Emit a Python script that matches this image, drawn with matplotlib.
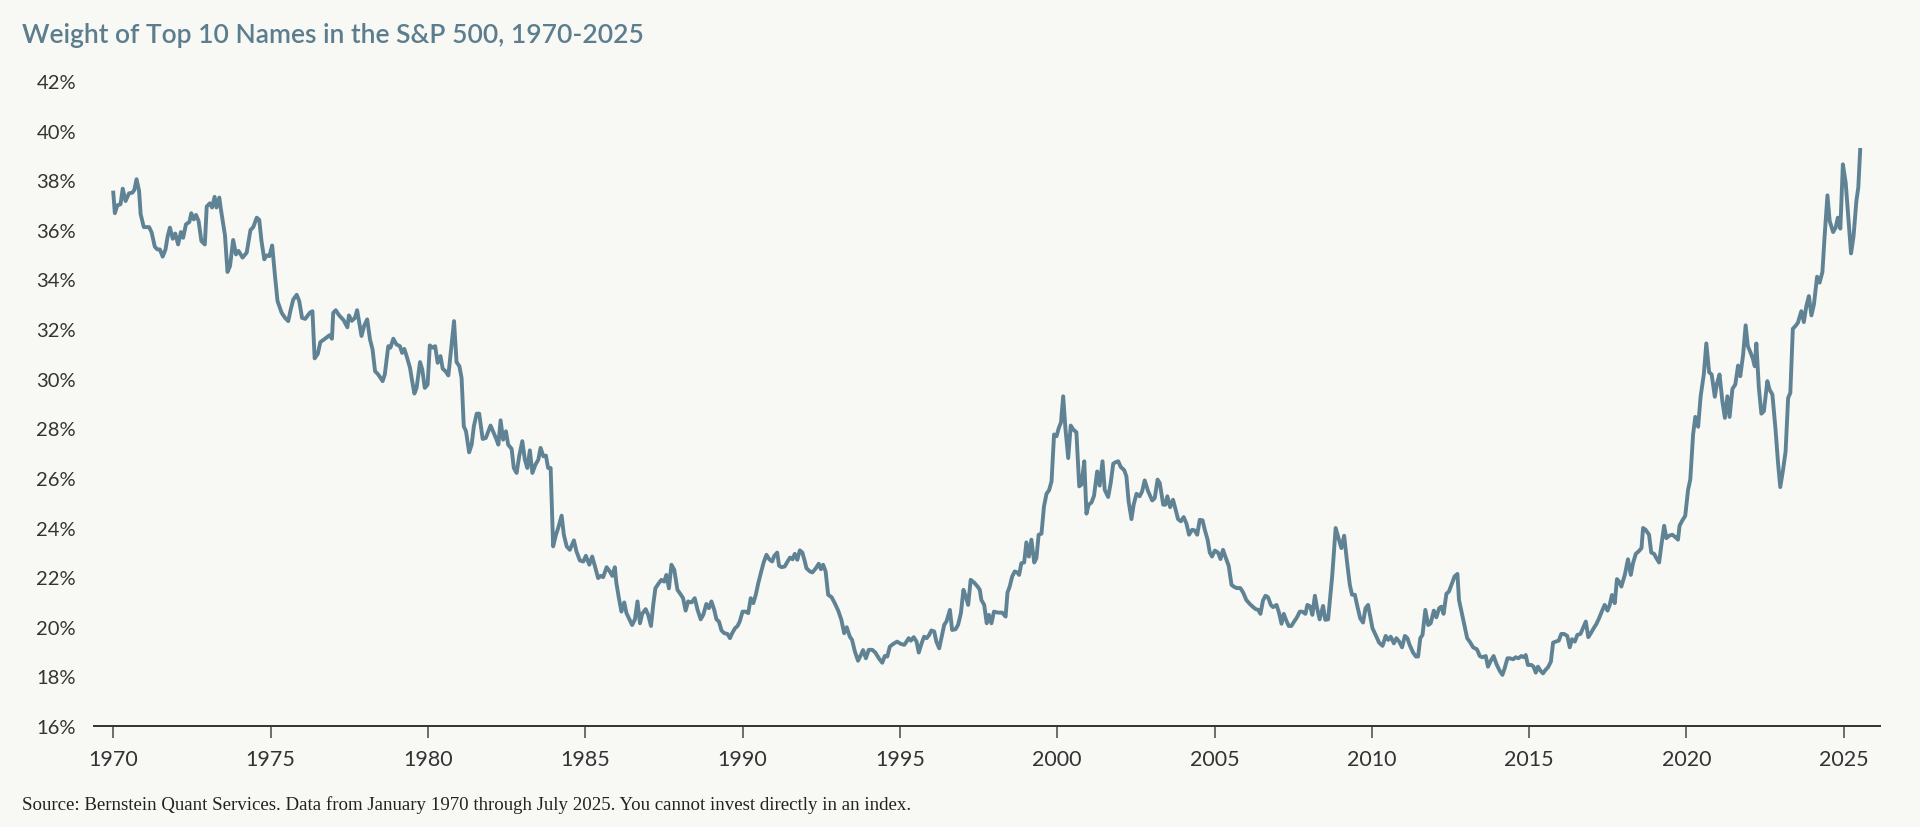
import matplotlib
matplotlib.use("Agg")
import matplotlib.pyplot as plt
from matplotlib.ticker import FuncFormatter

plt.rcParams.update({"font.family": "Lato"})

BG = "#f8f8f4"
LINE = "#5f8395"
TITLE = "#5b7d8e"
TXT = "#333333"

# decimal year / weight (%)
years = [
    1970.00, 1970.05, 1970.13, 1970.23, 1970.30, 1970.39, 1970.50, 1970.61, 1970.67, 1970.74,
    1970.82, 1970.87, 1970.97, 1971.14, 1971.22, 1971.32, 1971.40, 1971.48, 1971.57, 1971.66,
    1971.73, 1971.80, 1971.89, 1971.97, 1972.06, 1972.15, 1972.22, 1972.31, 1972.42, 1972.48,
    1972.56, 1972.63, 1972.71, 1972.80, 1972.91, 1972.97, 1973.07, 1973.14, 1973.22, 1973.28,
    1973.37, 1973.42, 1973.55, 1973.63, 1973.71, 1973.81, 1973.90, 1973.98, 1974.11, 1974.24,
    1974.36, 1974.45, 1974.56, 1974.64, 1974.71, 1974.80, 1974.87, 1974.96, 1975.05, 1975.14,
    1975.22, 1975.35, 1975.46, 1975.56, 1975.64, 1975.72, 1975.83, 1975.91, 1976.00, 1976.10,
    1976.25, 1976.33, 1976.40, 1976.50, 1976.58, 1976.76, 1976.87, 1976.95, 1976.99, 1977.07,
    1977.18, 1977.32, 1977.44, 1977.49, 1977.58, 1977.68, 1977.75, 1977.89, 1977.97, 1978.07,
    1978.16, 1978.24, 1978.32, 1978.42, 1978.56, 1978.63, 1978.74, 1978.81, 1978.90, 1979.00,
    1979.11, 1979.18, 1979.25, 1979.34, 1979.43, 1979.50, 1979.57, 1979.64, 1979.75, 1979.82,
    1979.90, 1979.99, 1980.06, 1980.15, 1980.23, 1980.31, 1980.40, 1980.47, 1980.56, 1980.65,
    1980.72, 1980.83, 1980.91, 1981.00, 1981.07, 1981.14, 1981.21, 1981.31, 1981.39, 1981.46,
    1981.55, 1981.63, 1981.74, 1981.84, 1981.92, 1981.99, 1982.08, 1982.16, 1982.24, 1982.31,
    1982.39, 1982.48, 1982.55, 1982.66, 1982.73, 1982.82, 1982.90, 1983.00, 1983.08, 1983.16,
    1983.24, 1983.32, 1983.42, 1983.51, 1983.58, 1983.67, 1983.75, 1983.82, 1983.90, 1983.98,
    1984.07, 1984.14, 1984.25, 1984.32, 1984.41, 1984.51, 1984.64, 1984.72, 1984.83, 1984.94,
    1985.02, 1985.13, 1985.22, 1985.31, 1985.41, 1985.49, 1985.57, 1985.68, 1985.78, 1985.86,
    1985.94, 1985.99, 1986.07, 1986.15, 1986.24, 1986.31, 1986.39, 1986.49, 1986.58, 1986.66,
    1986.74, 1986.81, 1986.92, 1987.00, 1987.09, 1987.16, 1987.23, 1987.34, 1987.42, 1987.51,
    1987.58, 1987.66, 1987.74, 1987.83, 1987.93, 1988.04, 1988.11, 1988.19, 1988.27, 1988.38,
    1988.48, 1988.57, 1988.67, 1988.75, 1988.85, 1988.93, 1989.01, 1989.10, 1989.17, 1989.25,
    1989.33, 1989.42, 1989.52, 1989.60, 1989.67, 1989.76, 1989.84, 1989.91, 1990.00, 1990.09,
    1990.18, 1990.26, 1990.34, 1990.42, 1990.50, 1990.58, 1990.67, 1990.76, 1990.85, 1990.94,
    1991.01, 1991.10, 1991.16, 1991.24, 1991.34, 1991.43, 1991.51, 1991.59, 1991.66, 1991.74,
    1991.82, 1991.90, 1991.98, 1992.03, 1992.14, 1992.22, 1992.33, 1992.42, 1992.49, 1992.56,
    1992.64, 1992.72, 1992.83, 1992.93, 1993.04, 1993.14, 1993.23, 1993.31, 1993.41, 1993.48,
    1993.57, 1993.67, 1993.76, 1993.83, 1993.92, 1994.01, 1994.12, 1994.22, 1994.33, 1994.44,
    1994.52, 1994.60, 1994.68, 1994.79, 1994.91, 1995.03, 1995.14, 1995.21, 1995.28, 1995.35,
    1995.44, 1995.53, 1995.60, 1995.69, 1995.77, 1995.85, 1995.93, 1996.00, 1996.09, 1996.16,
    1996.25, 1996.32, 1996.41, 1996.48, 1996.59, 1996.66, 1996.77, 1996.85, 1996.94, 1997.02,
    1997.11, 1997.17, 1997.25, 1997.36, 1997.47, 1997.54, 1997.59, 1997.68, 1997.76, 1997.83,
    1997.91, 1997.99, 1998.12, 1998.25, 1998.36, 1998.42, 1998.49, 1998.57, 1998.65, 1998.73,
    1998.79, 1998.86, 1998.95, 1999.02, 1999.10, 1999.18, 1999.27, 1999.34, 1999.41, 1999.50,
    1999.58, 1999.66, 1999.74, 1999.82, 1999.90, 1999.98, 2000.05, 2000.12, 2000.19, 2000.26,
    2000.35, 2000.43, 2000.51, 2000.61, 2000.70, 2000.77, 2000.86, 2000.93, 2001.00, 2001.09,
    2001.17, 2001.27, 2001.35, 2001.44, 2001.51, 2001.62, 2001.70, 2001.78, 2001.85, 2001.94,
    2002.02, 2002.13, 2002.20, 2002.27, 2002.36, 2002.43, 2002.52, 2002.62, 2002.70, 2002.78,
    2002.89, 2003.02, 2003.10, 2003.19, 2003.26, 2003.37, 2003.44, 2003.50, 2003.59, 2003.68,
    2003.76, 2003.84, 2003.93, 2004.02, 2004.11, 2004.19, 2004.29, 2004.37, 2004.45, 2004.53,
    2004.62, 2004.69, 2004.78, 2004.85, 2004.92, 2005.01, 2005.11, 2005.19, 2005.27, 2005.36,
    2005.45, 2005.54, 2005.61, 2005.70, 2005.82, 2005.91, 2006.01, 2006.12, 2006.23, 2006.31,
    2006.39, 2006.46, 2006.54, 2006.62, 2006.70, 2006.79, 2006.86, 2006.97, 2007.04, 2007.13,
    2007.20, 2007.28, 2007.36, 2007.44, 2007.53, 2007.62, 2007.71, 2007.79, 2007.89, 2007.95,
    2008.04, 2008.11, 2008.19, 2008.26, 2008.34, 2008.45, 2008.52, 2008.61, 2008.74, 2008.85,
    2008.95, 2009.03, 2009.12, 2009.21, 2009.30, 2009.37, 2009.46, 2009.54, 2009.63, 2009.72,
    2009.80, 2009.88, 2009.95, 2010.02, 2010.12, 2010.23, 2010.34, 2010.44, 2010.52, 2010.60,
    2010.70, 2010.78, 2010.87, 2010.96, 2011.05, 2011.13, 2011.20, 2011.31, 2011.40, 2011.47,
    2011.54, 2011.61, 2011.70, 2011.79, 2011.87, 2011.97, 2012.05, 2012.14, 2012.21, 2012.28,
    2012.37, 2012.45, 2012.55, 2012.63, 2012.72, 2012.77, 2012.85, 2012.93, 2013.03, 2013.11,
    2013.22, 2013.34, 2013.43, 2013.51, 2013.62, 2013.69, 2013.78, 2013.87, 2013.96, 2014.06,
    2014.15, 2014.22, 2014.31, 2014.38, 2014.49, 2014.57, 2014.66, 2014.75, 2014.83, 2014.89,
    2014.96, 2015.07, 2015.14, 2015.21, 2015.28, 2015.36, 2015.44, 2015.52, 2015.60, 2015.69,
    2015.76, 2015.84, 2015.94, 2016.02, 2016.11, 2016.21, 2016.29, 2016.36, 2016.45, 2016.53,
    2016.63, 2016.71, 2016.80, 2016.88, 2016.96, 2017.05, 2017.14, 2017.22, 2017.32, 2017.40,
    2017.49, 2017.56, 2017.63, 2017.72, 2017.79, 2017.86, 2017.93, 2018.04, 2018.14, 2018.23,
    2018.30, 2018.39, 2018.48, 2018.57, 2018.62, 2018.70, 2018.81, 2018.88, 2018.97, 2019.04,
    2019.13, 2019.21, 2019.29, 2019.36, 2019.45, 2019.55, 2019.65, 2019.73, 2019.78, 2019.87,
    2019.96, 2020.05, 2020.12, 2020.21, 2020.28, 2020.37, 2020.45, 2020.55, 2020.63, 2020.72,
    2020.80, 2020.90, 2020.97, 2021.05, 2021.14, 2021.22, 2021.30, 2021.37, 2021.46, 2021.55,
    2021.64, 2021.71, 2021.80, 2021.88, 2021.95, 2022.04, 2022.11, 2022.17, 2022.22, 2022.30,
    2022.38, 2022.46, 2022.57, 2022.64, 2022.73, 2022.83, 2022.91, 2022.98, 2023.07, 2023.15,
    2023.23, 2023.30, 2023.38, 2023.46, 2023.54, 2023.65, 2023.73, 2023.81, 2023.89, 2023.97,
    2024.05, 2024.15, 2024.23, 2024.32, 2024.39, 2024.48, 2024.55, 2024.66, 2024.74, 2024.81,
    2024.89, 2024.97, 2025.06, 2025.14, 2025.23, 2025.31, 2025.40, 2025.46, 2025.52,
]
weights = [
    37.50, 36.67, 36.99, 37.03, 37.66, 37.16, 37.47, 37.50, 37.61, 38.04,
    37.57, 36.63, 36.11, 36.11, 35.89, 35.32, 35.21, 35.21, 34.92, 35.21,
    35.75, 36.09, 35.64, 35.85, 35.41, 35.91, 35.68, 36.22, 36.32, 36.67,
    36.42, 36.60, 36.36, 35.55, 35.41, 36.94, 37.07, 36.90, 37.33, 36.90,
    37.30, 36.83, 35.78, 34.30, 34.54, 35.59, 35.01, 35.15, 34.88, 35.08,
    35.99, 36.11, 36.49, 36.40, 35.55, 34.81, 34.97, 34.94, 35.37, 34.14,
    33.13, 32.66, 32.45, 32.32, 32.79, 33.19, 33.38, 33.13, 32.45, 32.41,
    32.66, 32.72, 30.82, 31.00, 31.47, 31.64, 31.75, 31.61, 32.65, 32.76,
    32.55, 32.36, 32.07, 32.55, 32.33, 32.45, 32.76, 31.72, 32.12, 32.39,
    31.58, 31.18, 30.30, 30.17, 29.90, 30.17, 31.31, 31.25, 31.61, 31.38,
    31.31, 31.04, 31.20, 30.84, 30.44, 29.90, 29.40, 29.63, 30.67, 30.37,
    29.63, 29.76, 31.34, 31.25, 31.31, 30.64, 30.91, 30.40, 30.30, 30.13,
    30.98, 32.32, 30.67, 30.50, 30.03, 28.08, 27.88, 27.03, 27.34, 28.08,
    28.59, 28.59, 27.57, 27.61, 27.88, 28.11, 27.84, 27.61, 27.34, 28.32,
    27.54, 27.88, 27.34, 27.17, 26.40, 26.20, 26.87, 27.48, 26.74, 26.40,
    27.11, 26.20, 26.54, 26.74, 27.21, 26.87, 26.90, 26.40, 26.40, 23.24,
    23.71, 23.98, 24.48, 23.71, 23.24, 23.10, 23.48, 23.04, 22.67, 22.63,
    22.86, 22.50, 22.83, 22.43, 21.96, 22.05, 22.00, 22.40, 22.23, 22.05,
    22.40, 21.76, 21.15, 20.61, 20.98, 20.55, 20.34, 20.07, 20.30, 21.02,
    20.14, 20.52, 20.71, 20.48, 20.03, 20.88, 21.55, 21.76, 21.89, 21.82,
    22.09, 21.55, 22.50, 22.29, 21.49, 21.29, 21.15, 20.65, 21.02, 20.98,
    21.15, 20.68, 20.30, 20.48, 20.92, 20.75, 21.02, 20.68, 20.30, 20.21,
    19.85, 19.74, 19.71, 19.54, 19.74, 19.94, 20.03, 20.21, 20.61, 20.61,
    20.55, 21.15, 20.95, 21.29, 21.76, 22.16, 22.59, 22.90, 22.72, 22.63,
    22.86, 22.99, 22.46, 22.40, 22.43, 22.63, 22.79, 22.72, 22.94, 22.70,
    23.08, 22.99, 22.63, 22.36, 22.23, 22.19, 22.36, 22.54, 22.32, 22.50,
    22.23, 21.29, 21.19, 20.95, 20.65, 20.28, 19.74, 19.98, 19.60, 19.47,
    19.00, 18.63, 18.86, 19.06, 18.73, 19.07, 19.07, 18.96, 18.73, 18.55,
    18.82, 18.80, 19.20, 19.31, 19.40, 19.31, 19.27, 19.40, 19.54, 19.44,
    19.58, 19.40, 18.96, 19.33, 19.60, 19.54, 19.67, 19.85, 19.81, 19.40,
    19.13, 19.54, 20.08, 20.21, 20.68, 19.87, 19.90, 20.08, 20.55, 21.49,
    21.15, 20.88, 21.89, 21.78, 21.62, 21.49, 21.08, 20.88, 20.14, 20.48,
    20.14, 20.61, 20.57, 20.57, 20.41, 21.38, 21.62, 22.03, 22.23, 22.19,
    22.09, 22.56, 22.59, 23.40, 22.83, 23.51, 22.59, 22.77, 23.71, 23.75,
    24.85, 25.36, 25.50, 25.86, 27.75, 27.68, 28.01, 28.24, 29.29, 28.01,
    26.80, 28.11, 27.95, 27.84, 25.66, 25.73, 26.67, 24.56, 24.92, 25.01,
    25.28, 26.26, 25.69, 26.67, 25.52, 25.23, 25.79, 26.57, 26.63, 26.67,
    26.44, 26.31, 26.06, 25.05, 24.34, 24.92, 25.36, 25.26, 25.46, 25.90,
    25.46, 25.09, 25.19, 25.93, 25.79, 24.92, 24.92, 25.26, 24.82, 25.12,
    24.74, 24.34, 24.25, 24.42, 24.15, 23.71, 23.91, 23.88, 23.71, 24.31,
    24.29, 23.91, 23.51, 22.99, 22.83, 23.07, 22.99, 22.73, 23.10, 22.77,
    22.46, 21.69, 21.62, 21.56, 21.56, 21.38, 21.08, 20.92, 20.79, 20.71,
    20.68, 20.52, 21.06, 21.25, 21.19, 20.88, 20.79, 20.88, 20.61, 20.12,
    20.52, 20.25, 20.03, 20.03, 20.21, 20.38, 20.61, 20.61, 20.52, 20.88,
    20.82, 20.48, 21.25, 20.75, 20.30, 20.84, 20.28, 20.30, 22.05, 23.98,
    23.53, 23.17, 23.67, 22.63, 21.69, 21.29, 21.29, 20.82, 20.34, 20.17,
    20.75, 20.88, 20.41, 19.94, 19.67, 19.36, 19.23, 19.63, 19.47, 19.60,
    19.33, 19.54, 19.40, 19.17, 19.63, 19.54, 19.27, 18.96, 18.80, 18.80,
    19.54, 19.67, 20.68, 20.07, 20.14, 20.65, 20.38, 20.75, 20.81, 20.52,
    21.33, 21.42, 21.76, 22.03, 22.13, 21.08, 20.61, 20.14, 19.54, 19.40,
    19.17, 19.09, 18.82, 18.77, 18.82, 18.39, 18.63, 18.82, 18.50, 18.23,
    18.06, 18.32, 18.73, 18.73, 18.69, 18.77, 18.73, 18.82, 18.77, 18.86,
    18.46, 18.46, 18.39, 18.15, 18.39, 18.23, 18.12, 18.26, 18.37, 18.59,
    19.36, 19.40, 19.44, 19.71, 19.71, 19.63, 19.17, 19.50, 19.40, 19.67,
    19.71, 19.94, 20.21, 19.58, 19.74, 19.94, 20.12, 20.34, 20.65, 20.88,
    20.65, 20.88, 21.28, 20.95, 21.92, 21.82, 21.62, 22.09, 22.72, 22.09,
    22.56, 22.94, 23.04, 23.17, 23.98, 23.91, 23.71, 22.99, 22.94, 22.77,
    22.59, 23.37, 24.07, 23.57, 23.67, 23.71, 23.61, 23.51, 24.07, 24.29,
    24.47, 25.52, 25.93, 27.75, 28.46, 28.06, 29.29, 30.17, 31.42, 30.26,
    30.17, 29.27, 29.81, 30.17, 29.09, 28.42, 29.29, 28.46, 29.59, 29.76,
    30.53, 30.10, 30.97, 32.15, 31.31, 31.04, 30.80, 30.50, 31.42, 29.63,
    28.59, 28.69, 29.90, 29.56, 29.36, 27.95, 26.60, 25.63, 26.33, 27.07,
    29.22, 29.43, 32.01, 32.12, 32.25, 32.72, 32.28, 32.93, 33.33, 32.55,
    32.99, 34.11, 33.87, 34.30, 35.75, 37.39, 36.36, 35.91, 36.09, 36.49,
    36.05, 38.64, 37.90, 36.56, 35.05, 35.75, 37.17, 37.70, 39.22,
]

x_ticks = [1970, 1975, 1980, 1985, 1990, 1995, 2000, 2005, 2010, 2015, 2020, 2025]
y_ticks = [16, 18, 20, 22, 24, 26, 28, 30, 32, 34, 36, 38, 40, 42]

title = "Weight of Top 10 Names in the S&P 500, 1970-2025"
source = ("Source: Bernstein Quant Services. Data from January 1970 through July 2025. "
          "You cannot invest directly in an index.")

fig = plt.figure(figsize=(19.2, 8.28), dpi=100, facecolor=BG)
ax = fig.add_axes([0.049, 0.122, 0.930, 0.779], facecolor=BG)

ax.plot(years, weights, color=LINE, lw=2.8, solid_joinstyle="round", clip_on=False)

ax.set_xlim(1969.39, 2026.14)
ax.set_ylim(16, 42)
ax.set_xticks(x_ticks)
ax.set_yticks(y_ticks)
ax.yaxis.set_major_formatter(FuncFormatter(lambda v, p: f"{v:.0f}%"))

for s in ["left", "right", "top"]:
    ax.spines[s].set_visible(False)
ax.spines["bottom"].set_color(TXT)
ax.spines["bottom"].set_linewidth(1.4)

ax.tick_params(axis="x", direction="out", length=8.5, width=1.2, color="#555555",
               labelsize=15.5, labelcolor=TXT, pad=8)
ax.tick_params(axis="y", length=0, labelsize=14.5, labelcolor=TXT, pad=13)

fig.text(0.0115, 0.957, title, fontsize=19, fontweight="semibold", color=TITLE,
         ha="left", va="center")
fig.text(0.0115, 0.028, source, fontsize=13.6, family="Liberation Serif", color="#222222",
         ha="left", va="center")

fig.savefig("out.png", dpi=100, facecolor=BG)
